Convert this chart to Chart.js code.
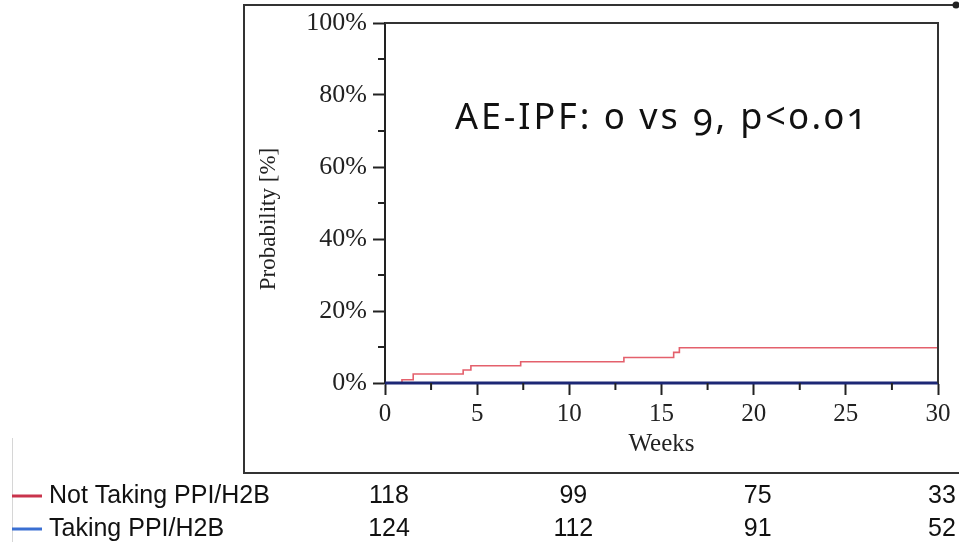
<!DOCTYPE html>
<html>
<head>
<meta charset="utf-8">
<script src="https://cdn.jsdelivr.net/npm/chart.js@4.4.1/dist/chart.umd.min.js"></script>
<style>
  html, body { margin: 0; padding: 0; background: #fff; }
  #wrap { position: relative; width: 959px; height: 542px; }
  #note {
    position: absolute; left: 455px; top: 98px;
    font: 36px "Noto Sans", sans-serif; line-height: 36px;
    letter-spacing: 2.9px;
    font-variant-numeric: oldstyle-nums;
    color: #111; white-space: nowrap;
  }
</style>
</head>
<body>
<div id="wrap">
  <canvas id="km" width="959" height="542"></canvas>
  <div id="note">AE-IPF: 0 vs 9, p&lt;0.01</div>
</div>
<script>
// Kaplan-Meier cumulative incidence, AE-IPF
const notTakingWeeks = [0, 0.92, 1.53, 4.24, 4.66, 7.36, 12.96, 15.66, 15.97, 30];
const notTakingProb  = [0, 0.9, 2.5, 3.6, 4.8, 5.9, 7.1, 8.5, 9.8, 9.8];
const takingWeeks = [0, 30];
const takingProb  = [0, 0];

// numbers at risk
const riskWeeks = [0, 10, 20, 30];
const notTakingAtRisk = [118, 99, 75, 33];
const takingAtRisk    = [124, 112, 91, 52];
const groupNames = ['Not Taking PPI/H2B', 'Taking PPI/H2B'];

const RED = '#e4606c', NAVY = '#1c2775';
const INK = '#222';
const serif = '"Liberation Serif", "Times New Roman", serif';

const toPts = (xs, ys) => xs.map((x, i) => ({ x: x, y: ys[i] }));

const decor = {
  id: 'decor',
  beforeDraw(chart) {
    const ctx = chart.ctx;
    ctx.save();
    ctx.fillStyle = '#fff';
    ctx.fillRect(0, 0, chart.width, chart.height);
    // outer panel border
    ctx.strokeStyle = '#333';
    ctx.lineWidth = 2;
    ctx.beginPath();
    ctx.moveTo(959, 5); ctx.lineTo(244, 5); ctx.lineTo(244, 473); ctx.lineTo(959, 473);
    ctx.stroke();
    ctx.fillStyle = '#222';
    ctx.beginPath(); ctx.arc(956, 5, 3.5, 0, Math.PI * 2); ctx.fill();
    // faint left rule
    ctx.strokeStyle = '#d6d6d6'; ctx.lineWidth = 1;
    ctx.beginPath(); ctx.moveTo(12.5, 438); ctx.lineTo(12.5, 542); ctx.stroke();
    ctx.restore();
  },
  afterDraw(chart) {
    const ctx = chart.ctx;
    const { left, right, top, bottom } = chart.chartArea;
    const xs = chart.scales.x, ys = chart.scales.y;
    ctx.save();
    // top / right frame of the plot
    ctx.strokeStyle = '#333'; ctx.lineWidth = 2;
    ctx.beginPath();
    ctx.moveTo(left, top); ctx.lineTo(right, top); ctx.lineTo(right, bottom);
    ctx.stroke();
    // minor ticks
    ctx.strokeStyle = INK; ctx.lineWidth = 2;
    ctx.beginPath();
    for (let w = 2.5; w < 30; w += 5) {
      const px = xs.getPixelForValue(w);
      ctx.moveTo(px, bottom); ctx.lineTo(px, bottom + 7);
    }
    for (let p = 10; p < 100; p += 20) {
      const py = ys.getPixelForValue(p);
      ctx.moveTo(left - 7, py); ctx.lineTo(left, py);
    }
    ctx.stroke();

    // y axis title, sits a little below the axis middle
    ctx.save();
    ctx.translate(269, 219);
    ctx.rotate(-Math.PI / 2);
    ctx.fillStyle = INK;
    ctx.font = '23px ' + serif;
    ctx.textAlign = 'center';
    ctx.textBaseline = 'middle';
    ctx.fillText('Probability [%]', 0, 0);
    ctx.restore();

    // risk table
    const rows = [
      { name: groupNames[0], vals: notTakingAtRisk, color: '#c9344c', y: 503 },
      { name: groupNames[1], vals: takingAtRisk, color: '#3a6fd2', y: 536 }
    ];
    ctx.font = '25px "Liberation Sans", Arial, sans-serif';
    ctx.textBaseline = 'alphabetic';
    rows.forEach(r => {
      ctx.strokeStyle = r.color; ctx.lineWidth = 3;
      ctx.beginPath(); ctx.moveTo(12, r.y - 7); ctx.lineTo(42, r.y - 7); ctx.stroke();
      ctx.fillStyle = '#111';
      ctx.textAlign = 'left';
      ctx.fillText(r.name, 49, r.y);
      ctx.textAlign = 'center';
      r.vals.forEach((v, i) => {
        ctx.fillText(String(v), xs.getPixelForValue(riskWeeks[i]) + 4, r.y);
      });
    });
    ctx.restore();
  }
};

new Chart(document.getElementById('km'), {
  type: 'line',
  data: {
    datasets: [
      {
        label: groupNames[1],
        data: toPts(takingWeeks, takingProb),
        borderColor: NAVY, borderWidth: 3,
        pointRadius: 0, stepped: 'before', clip: false, order: 0
      },
      {
        label: groupNames[0],
        data: toPts(notTakingWeeks, notTakingProb),
        borderColor: RED, borderWidth: 1.6,
        pointRadius: 0, stepped: 'before', clip: false, order: 1
      }
    ]
  },
  options: {
    responsive: false,
    animation: false,
    layout: { padding: { left: 250, top: 23, right: 21, bottom: 83 } },
    plugins: { legend: { display: false }, tooltip: { enabled: false } },
    scales: {
      x: {
        type: 'linear', min: 0, max: 30,
        afterFit(s) { s.height = 76; s.paddingLeft = 0; s.paddingRight = 0; },
        ticks: { stepSize: 5, padding: 4, color: INK, font: { family: serif, size: 25 } },
        grid: { drawOnChartArea: false, tickLength: 12, tickColor: INK, tickWidth: 2 },
        border: { color: INK, width: 2 },
        title: { display: true, text: 'Weeks', color: INK, padding: 0, font: { family: serif, size: 25 } }
      },
      y: {
        min: 0, max: 100,
        afterFit(s) { s.width = 135; s.paddingTop = 0; s.paddingBottom = 0; },
        ticks: { stepSize: 20, padding: 6, color: INK, font: { family: serif, size: 26 }, callback: v => v + '%' },
        grid: { drawOnChartArea: false, tickLength: 12, tickColor: INK, tickWidth: 2 },
        border: { color: INK, width: 2 }
      }
    }
  },
  plugins: [decor]
});
</script>
</body>
</html>
